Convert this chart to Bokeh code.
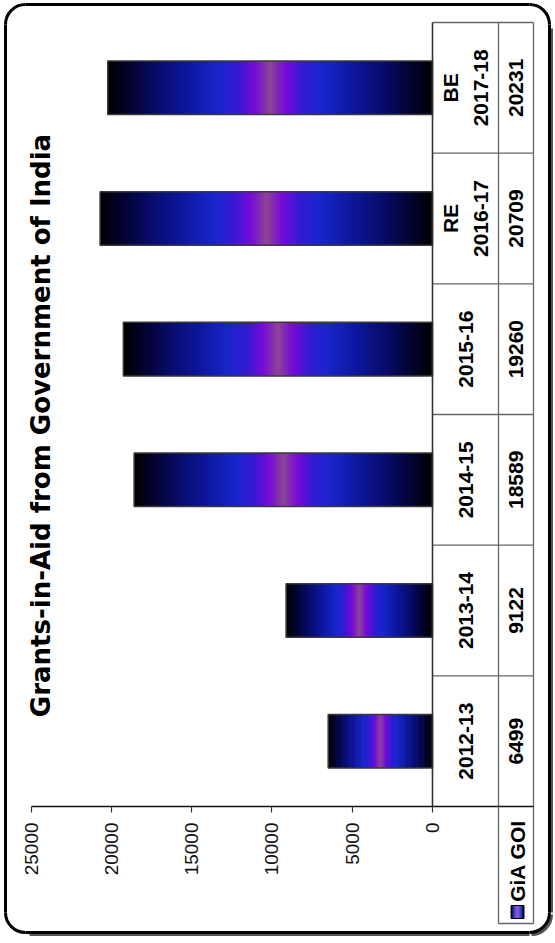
import math
import numpy as np
from bokeh.plotting import figure
from bokeh.models import Range1d, FixedTicker
from bokeh.core.properties import value
from bokeh.embed import file_html
from bokeh.resources import INLINE

# ---------------- data ----------------
categories = ["2012-13", "2013-14", "2014-15", "2015-16", "RE\n2016-17", "BE\n2017-18"]
gia_goi = [6499, 9122, 18589, 19260, 20709, 20231]
value_ticks = [0, 5000, 10000, 15000, 20000, 25000]
series_name = "GiA GOI"
title_text = "Grants-in-Aid from Government of India"

# ---------------- layout (page pixels) ----------------
W, H = 555, 943
OFF = 0
X0_PAGE = 432.0      # where value 0 sits
X25_PAGE = 30.7      # where value 25000 sits
K = (X0_PAGE - X25_PAGE) / 25000.0
ROW = 130.67         # one category slot
Y0_PAGE = 806.0      # value axis line


def dx(page_x):
    return (X0_PAGE - page_x) / K


def dy(page_y):
    return (Y0_PAGE - page_y) / ROW


FONT = value("Liberation Sans")

p = figure(width=W, height=H,
           x_range=Range1d(dx(OFF), dx(OFF + W)),
           y_range=Range1d(dy(OFF + H), dy(OFF)),
           output_backend="svg", toolbar_location=None,
           x_axis_location="below", y_axis_location=None,
           min_border=0, min_border_left=0, min_border_right=0,
           min_border_top=0, min_border_bottom=0)
p.extra_x_ranges = {"px": Range1d(OFF, OFF + W)}
p.extra_y_ranges = {"px": Range1d(-(OFF + H), -OFF)}
p.outline_line_color = None
p.background_fill_color = "white"
p.border_fill_color = "white"
p.xgrid.visible = False
p.ygrid.visible = False

# value axis
ax = p.xaxis[0]
ax.fixed_location = 0
ax.ticker = FixedTicker(ticks=value_ticks)
ax.bounds = (dx(533), 25000)
ax.major_label_orientation = math.pi / 2
ax.major_tick_in = 0
ax.major_tick_out = 6
ax.minor_tick_in = 0
ax.minor_tick_out = 0
ax.major_label_standoff = 10
ax.major_label_text_font = "Liberation Sans"
ax.major_label_text_font_size = "19px"
ax.major_label_text_color = "#111111"
ax.axis_line_color = "#111111"
ax.axis_line_width = 1.3
ax.major_tick_line_color = "#333333"
ax.major_tick_line_width = 1.2

# ---------------- gradient bars ----------------
stops_u = [0.0, 0.06, 0.15, 0.25, 0.34, 0.40, 0.45, 0.48, 0.5]
stops_c = [(0, 0, 0), (3, 3, 42), (8, 12, 105), (14, 24, 160), (24, 38, 204),
           (52, 26, 212), (118, 10, 218), (132, 42, 182), (140, 74, 142)]


def grad(t):
    u = min(t, 1 - t)
    r = np.interp(u, stops_u, [c[0] for c in stops_c])
    g = np.interp(u, stops_u, [c[1] for c in stops_c])
    b = np.interp(u, stops_u, [c[2] for c in stops_c])
    return "#%02x%02x%02x" % (int(r), int(g), int(b))


N = 120
BAR_H = 0.41
ys, lefts, rights, cols = [], [], [], []
for i, v in enumerate(gia_goi):
    edges = np.linspace(0, v, N + 1)
    step = v / N
    for k in range(N):
        ys.append(i + 0.5)
        lefts.append(edges[k])
        rights.append(min(v, edges[k + 1] + 0.8 * step))
        cols.append(grad((k + 0.5) / N))
p.hbar(y=ys, left=lefts, right=rights, height=BAR_H,
       fill_color=cols, line_color=None)
p.hbar(y=[i + 0.5 for i in range(len(gia_goi))], left=0, right=gia_goi,
       height=BAR_H, fill_color=None, line_color="#3a3a3a", line_width=1.5)

# ---------------- data table ----------------
xb = dx(498)
xc = dx(533)
yleg = dy(923)
tx0, ty0, tx1, ty1 = [], [], [], []
for k in range(1, len(categories) + 1):
    tx0.append(0); ty0.append(k); tx1.append(xc); ty1.append(k)
for xx in (xb, xc):
    tx0.append(xx); ty0.append(yleg); tx1.append(xx); ty1.append(len(categories))
tx0.append(xb); ty0.append(yleg); tx1.append(xc); ty1.append(yleg)
p.segment(x0=tx0, y0=ty0, x1=tx1, y1=ty1, line_color="#666666", line_width=1.3)
p.segment(x0=[0], y0=[0], x1=[0], y1=[len(categories)], line_color="#333333", line_width=1.6)

cy = [i + 0.5 for i in range(len(categories))]
p.text(x=dx(465), y=cy, text=categories, angle=math.pi / 2,
       text_align="center", text_baseline="middle", text_font=FONT,
       text_font_style="bold", text_font_size="21px", text_line_height=1.3,
       text_color="black")
p.text(x=dx(515.5), y=cy, text=[str(v) for v in gia_goi], angle=math.pi / 2,
       text_align="center", text_baseline="middle", text_font=FONT,
       text_font_style="bold", text_font_size="21px", text_color="black")

# legend cell
p.text(x=[516.5], y=[-860.5], text=[series_name], angle=math.pi / 2,
       text_align="center", text_baseline="middle", text_font=FONT,
       text_font_style="bold", text_font_size="21px", text_color="black",
       x_range_name="px", y_range_name="px")
kn = 12
kx = np.linspace(510.5, 523.5, kn + 1)
p.quad(left=kx[:-1], right=kx[1:], top=[-905] * kn, bottom=[-918] * kn,
       fill_color=[grad((j + 0.5) / kn) for j in range(kn)],
       line_color=None, x_range_name="px", y_range_name="px")
p.quad(left=[510.5], right=[523.5], top=[-905], bottom=[-918], fill_color=None,
       line_color="black", line_width=1, x_range_name="px", y_range_name="px")

# title
p.text(x=[40], y=[-425], text=[title_text], angle=math.pi / 2,
       text_align="center", text_baseline="middle", text_font=value("DejaVu Sans"),
       text_font_style="bold", text_font_size="26px", text_color="black",
       x_range_name="px", y_range_name="px")

# rounded outer border (with a slight shadow on right / bottom)
L, R, T, B, RAD = 5, 549, 4, 932, 20
p.segment(x0=[R + 2, R - RAD], y0=[-(T + RAD + 4), -(B + 2)],
          x1=[R + 2, L + RAD + 4], y1=[-(B - RAD), -(B + 2)],
          line_color="#555555", line_width=3, x_range_name="px", y_range_name="px")
p.arc(x=[R - RAD + 2], y=[-(B - RAD + 2)], radius=RAD, radius_units="screen",
      start_angle=-math.pi / 2, end_angle=0,
      line_color="#555555", line_width=3, x_range_name="px", y_range_name="px")
p.segment(x0=[L + RAD, R, R - RAD, L], y0=[-T, -(T + RAD), -B, -(B - RAD)],
          x1=[R - RAD, R, L + RAD, L], y1=[-T, -(B - RAD), -B, -(T + RAD)],
          line_color="black", line_width=3, x_range_name="px", y_range_name="px")
p.arc(x=[L + RAD, R - RAD, R - RAD, L + RAD],
      y=[-(T + RAD), -(T + RAD), -(B - RAD), -(B - RAD)],
      radius=RAD, radius_units="screen",
      start_angle=[math.pi / 2, 0, -math.pi / 2, math.pi],
      end_angle=[math.pi, math.pi / 2, 0, 3 * math.pi / 2],
      line_color="black", line_width=3, x_range_name="px", y_range_name="px")

open("out.html", "w").write(file_html(p, INLINE))
